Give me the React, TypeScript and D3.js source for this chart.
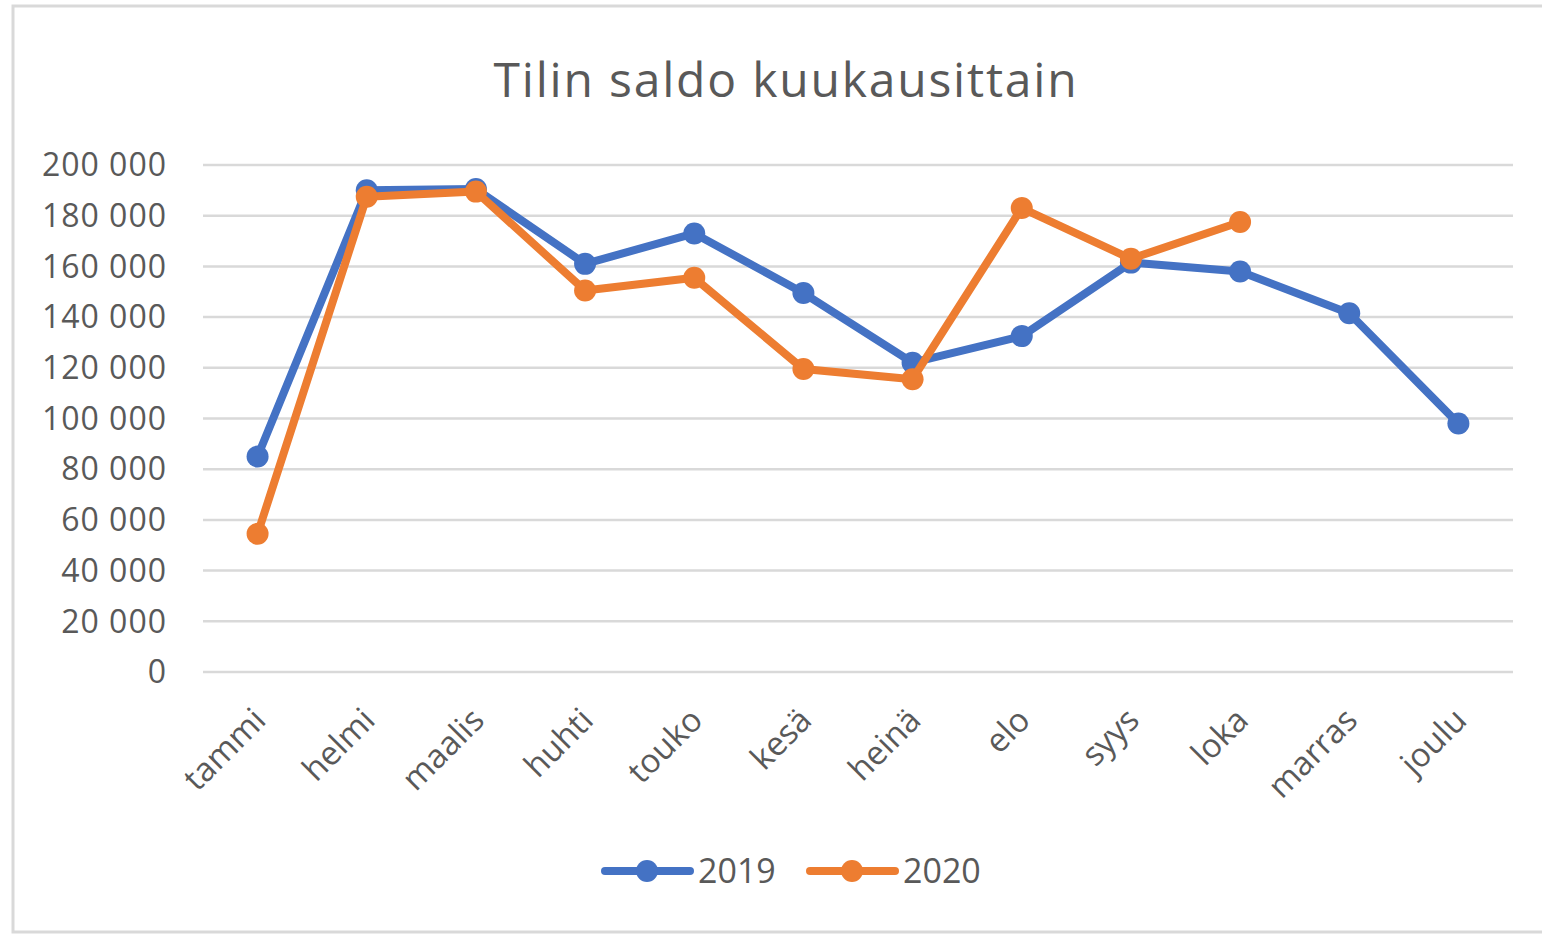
import * as d3 from "d3";
import { useEffect, useRef } from "react";

const months = ["tammi", "helmi", "maalis", "huhti", "touko", "kesä", "heinä", "elo", "syys", "loka", "marras", "joulu"];
const saldo2019 = [85000, 190000, 190500, 161000, 173000, 149500, 122000, 132500, 161500, 158000, 141500, 98000];
const saldo2020 = [54500, 187500, 189500, 150500, 155500, 119500, 115500, 183000, 163000, 177500];
const yTicks = [0, 20000, 40000, 60000, 80000, 100000, 120000, 140000, 160000, 180000, 200000];

const BLUE = "#4472C4";
const ORANGE = "#ED7D31";
const TEXT = "#595959";
const FONT = "'Open Sans', 'Liberation Sans', sans-serif";

export default function App() {
  const ref = useRef<SVGSVGElement>(null);

  useEffect(() => {
    const width = 1542;
    const height = 934;
    const svg = d3.select(ref.current);
    svg.selectAll("*").remove();
    svg.attr("width", width).attr("height", height);

    svg.append("rect").attr("width", width).attr("height", height).attr("fill", "#fff");
    svg.append("rect")
      .attr("x", 13).attr("y", 6)
      .attr("width", width + 20).attr("height", 926)
      .attr("fill", "none").attr("stroke", "#d9d9d9").attr("stroke-width", 3);

    svg.append("text")
      .attr("x", 786).attr("y", 97)
      .attr("text-anchor", "middle")
      .attr("font-family", FONT).attr("font-size", 48)
      .attr("letter-spacing", 1.8)
      .attr("fill", TEXT)
      .text("Tilin saldo kuukausittain");

    const x = d3.scalePoint<string>().domain(months).range([203, 1513]).padding(0.5);
    const y = d3.scaleLinear().domain([0, 200000]).range([672, 165]);

    const fmt = (v: number) => d3.format(",")(v).replace(/,/g, " ");

    svg.append("g").selectAll("line").data(yTicks).enter().append("line")
      .attr("x1", 203).attr("x2", 1513)
      .attr("y1", d => y(d)).attr("y2", d => y(d))
      .attr("stroke", "#d9d9d9").attr("stroke-width", 2.5);

    svg.append("g").selectAll("text").data(yTicks).enter().append("text")
      .attr("x", 167).attr("y", d => y(d))
      .attr("dy", "0.35em")
      .attr("text-anchor", "end")
      .attr("font-family", FONT).attr("font-size", 32)
      .attr("letter-spacing", 1)
      .attr("fill", TEXT)
      .text(d => fmt(d));

    svg.append("g").selectAll("text").data(months).enter().append("text")
      .attr("transform", d => `translate(${x(d)! + 2},${714}) rotate(-45)`)
      .attr("text-anchor", "end")
      .attr("dy", "0.35em")
      .attr("font-family", FONT).attr("font-size", 33)
      .attr("fill", TEXT)
      .text(d => d);

    const line = d3.line<number>()
      .x((_, i) => x(months[i])!)
      .y(d => y(d));

    const series = [
      { name: "2019", values: saldo2019, color: BLUE },
      { name: "2020", values: saldo2020, color: ORANGE },
    ];

    series.forEach(s => {
      const g = svg.append("g");
      g.append("path")
        .datum(s.values)
        .attr("d", line)
        .attr("fill", "none")
        .attr("stroke", s.color)
        .attr("stroke-width", 8)
        .attr("stroke-linejoin", "round")
        .attr("stroke-linecap", "round");
      g.selectAll("circle").data(s.values).enter().append("circle")
        .attr("cx", (_, i) => x(months[i])!)
        .attr("cy", d => y(d))
        .attr("r", 11)
        .attr("fill", s.color);
    });

    const legend = svg.append("g");
    series.forEach((s, i) => {
      const lx = 605 + i * 205;
      const ly = 871;
      legend.append("line")
        .attr("x1", lx).attr("x2", lx + 85)
        .attr("y1", ly).attr("y2", ly)
        .attr("stroke", s.color).attr("stroke-width", 8)
        .attr("stroke-linecap", "round");
      legend.append("circle").attr("cx", lx + 42).attr("cy", ly).attr("r", 11).attr("fill", s.color);
      legend.append("text")
        .attr("x", lx + 93).attr("y", ly)
        .attr("dy", "0.35em")
        .attr("font-family", FONT).attr("font-size", 34)
        .attr("fill", TEXT)
        .text(s.name);
    });
  }, []);

  return (
    <div style={{ position: "fixed", left: 0, top: 0 }}>
      <svg ref={ref} style={{ display: "block" }} />
    </div>
  );
}
